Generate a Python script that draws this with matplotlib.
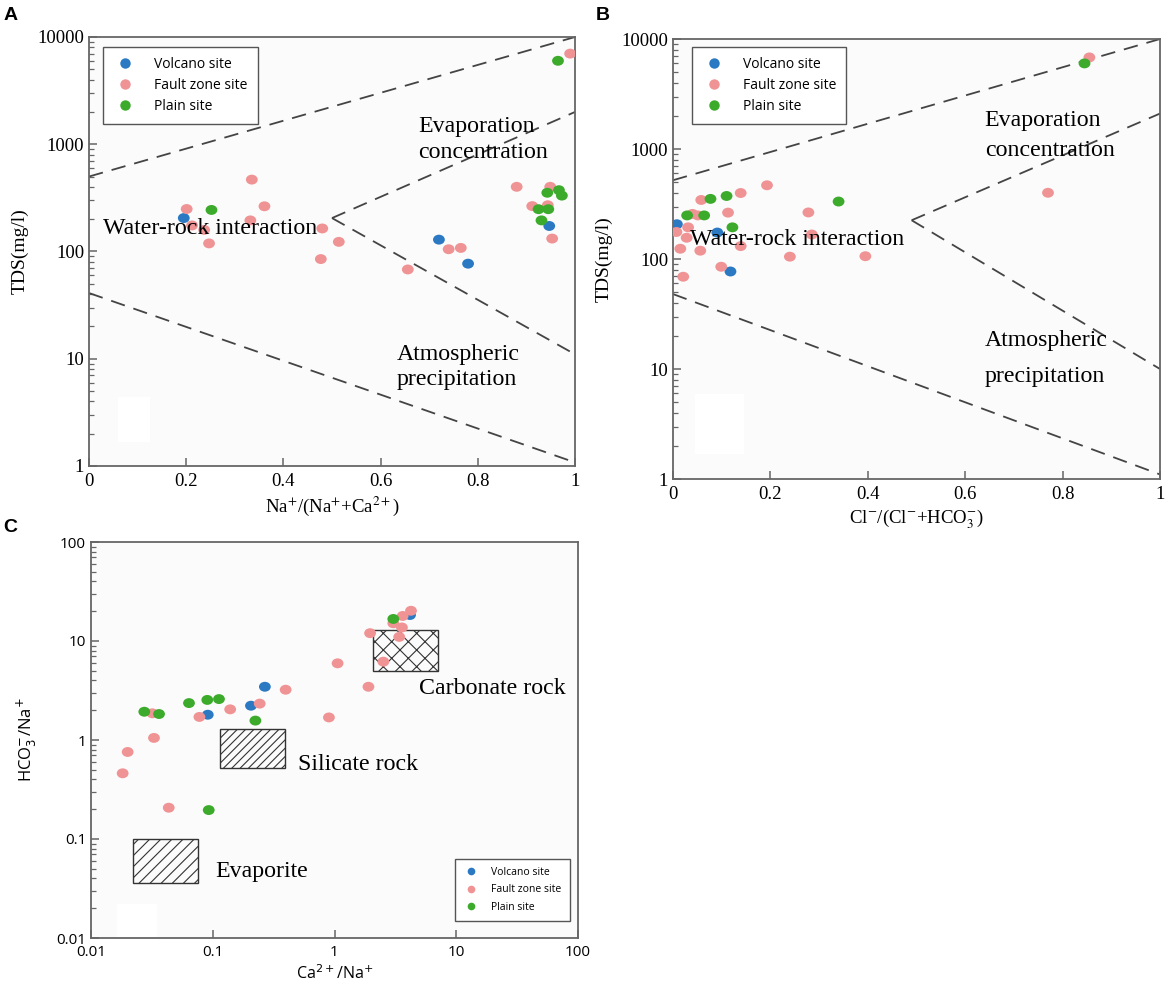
import matplotlib
matplotlib.use('Agg')
import matplotlib.pyplot as plt
from matplotlib.patches import Rectangle
from matplotlib.lines import Line2D
from matplotlib.path import Path
from matplotlib.transforms import Affine2D
from matplotlib.ticker import LogLocator, NullFormatter, NullLocator

# ---------------- DATA ----------------
# Panel A : Na+/(Na+ + Ca2+) vs TDS
a_volcano_x = [0.195, 0.720, 0.780, 0.947]
a_volcano_y = [205, 129, 77, 173]
a_fault_x = [0.201, 0.212, 0.237, 0.247, 0.335, 0.361, 0.332, 0.480, 0.514, 0.477,
             0.656, 0.740, 0.765, 0.880, 0.949, 0.912, 0.944, 0.953, 0.990]
a_fault_y = [249, 175, 159, 119, 468, 264, 195, 164, 123, 85,
             68, 105, 108, 401, 401, 265, 270, 132, 7000]
a_plain_x = [0.252, 0.943, 0.967, 0.973, 0.925, 0.945, 0.931, 0.965]
a_plain_y = [244, 353, 373, 332, 248, 248, 195, 6000]

# Panel B : Cl-/(Cl- + HCO3-) vs TDS
b_volcano_x = [0.008, 0.091, 0.118]
b_volcano_y = [207, 174, 77]
b_fault_x = [0.193, 0.139, 0.058, 0.278, 0.113, 0.040, 0.051, 0.007, 0.031, 0.285,
             0.028, 0.015, 0.056, 0.139, 0.240, 0.395, 0.099, 0.021, 0.770, 0.855]
b_fault_y = [468, 398, 344, 265, 264, 257, 249, 176, 194, 167,
             156, 124, 119, 131, 105, 106, 85, 69, 400, 6800]
b_plain_x = [0.110, 0.077, 0.340, 0.029, 0.064, 0.122, 0.845]
b_plain_y = [374, 352, 333, 249, 249, 194, 6000]

# Panel C : Ca2+/Na+ vs HCO3-/Na+
c_volcano_x = [0.268, 0.206, 0.091, 4.17]
c_volcano_y = [3.45, 2.22, 1.80, 18.3]
c_fault_x = [0.397, 0.139, 0.243, 0.0777, 0.0319, 0.0329, 0.0200, 0.0182, 0.0435,
             3.63, 4.25, 3.04, 3.58, 3.40, 1.96, 2.52, 1.06, 1.90, 0.90]
c_fault_y = [3.22, 2.04, 2.33, 1.71, 1.86, 1.05, 0.757, 0.461, 0.207,
             17.9, 20.2, 15.1, 13.7, 11.0, 12.0, 6.18, 5.95, 3.45, 1.69]
c_plain_x = [0.0638, 0.0902, 0.1125, 0.224, 0.0274, 0.0362, 0.0927, 3.04]
c_plain_y = [2.36, 2.54, 2.59, 1.57, 1.93, 1.83, 0.196, 16.7]

# Gibbs boundary lines (x, y pairs)
a_lines = [([0, 1], [500, 10000]), ([0.5, 1], [205, 2000]),
           ([0.5, 1], [205, 11]), ([0, 1], [41, 1.08])]
b_lines = [([0, 1], [520, 10000]), ([0.49, 1], [225, 2100]),
           ([0.49, 1], [225, 10]), ([0, 1], [48, 1.1])]

# Rock end-member boxes: (x0, x1, y0, y1)
c_boxes = {'Carbonate rock': (2.08, 7.1, 5.0, 12.8),
           'Silicate rock': (0.115, 0.39, 0.52, 1.3),
           'Evaporite': (0.022, 0.076, 0.036, 0.1)}

series_names = ['Volcano site', 'Fault zone site', 'Plain site']
colors = ['#2a79c2', '#f09395', '#3cab2c']

log_ticks_tds = [1, 10, 100, 1000, 10000]
log_ticks_tds_lbl = ['1', '10', '100', '1000', '10000']
lin_ticks = [0, 0.2, 0.4, 0.6, 0.8, 1]
lin_ticks_lbl = ['0', '0.2', '0.4', '0.6', '0.8', '1']
c_ticks = [0.01, 0.1, 1, 10, 100]
c_ticks_lbl = ['0.01', '0.1', '1', '10', '100']

# ---------------- STYLE ----------------
SERIF = ['Liberation Serif', 'DejaVu Serif']
SANS = ['Open Sans', 'DejaVu Sans']
plt.rcParams['hatch.linewidth'] = 0.8
plt.rcParams['hatch.color'] = '#333333'
SPINE = '#666666'
DASH = '#444444'
TXT = 17.2

# slightly wide elliptical dot, like the reference
DOT = Path.unit_circle().transformed(Affine2D().scale(1.0, 0.84))

fig = plt.figure(figsize=(11.7, 9.81), dpi=100)
W, H = 1170, 981


def px_axes(l, t, r, b):
    return fig.add_axes([l / W, 1 - b / H, (r - l) / W, (b - t) / H])


axA = px_axes(89, 37, 575, 466)
axB = px_axes(673, 39, 1160, 479)
axC = px_axes(91, 542, 578, 938)


def style_axis(ax):
    ax.set_facecolor('#fbfbfb')
    for s in ax.spines.values():
        s.set_color(SPINE)
        s.set_linewidth(1.3)
    ax.tick_params(which='both', direction='in', color=SPINE, top=False, right=False)
    ax.tick_params(which='major', length=6, width=1.1)
    ax.tick_params(which='minor', length=3.5, width=0.9)


def scatter_series(ax, xs, ys):
    for x, y, c in zip(xs, ys, colors):
        ax.scatter(x, y, s=72, marker=DOT, color=c, edgecolors='none', zorder=3)


def add_legend(ax, anchor, fs, ms, **kw):
    handles = [Line2D([], [], marker='o', linestyle='none', color=c,
                      markersize=ms, markeredgewidth=0) for c in colors]
    leg = ax.legend(handles, series_names, loc='upper left', bbox_to_anchor=anchor,
                    frameon=True, fancybox=False, prop={'family': SANS, 'size': fs},
                    **kw)
    fr = leg.get_frame()
    fr.set_edgecolor('#555555')
    fr.set_linewidth(1.0)
    fr.set_facecolor('white')
    fr.set_alpha(1)
    return leg


# ---------- Panel A & B ----------
for ax, lines, data, xlabel in [
        (axA, a_lines,
         [(a_volcano_x, a_volcano_y), (a_fault_x, a_fault_y), (a_plain_x, a_plain_y)],
         r'Na$^{+}$/(Na$^{+}$+Ca$^{2+}$)'),
        (axB, b_lines,
         [(b_volcano_x, b_volcano_y), (b_fault_x, b_fault_y), (b_plain_x, b_plain_y)],
         r'Cl$^{-}$/(Cl$^{-}$+HCO$_{3}^{-}$)')]:
    style_axis(ax)
    ax.set_yscale('log')
    ax.set_xlim(0, 1)
    ax.set_ylim(1, 10000)
    ax.set_yticks(log_ticks_tds, log_ticks_tds_lbl)
    ax.yaxis.set_minor_locator(LogLocator(base=10, subs=range(2, 10)))
    ax.yaxis.set_minor_formatter(NullFormatter())
    ax.set_xticks(lin_ticks, lin_ticks_lbl)
    for lbl in ax.get_xticklabels() + ax.get_yticklabels():
        lbl.set_family(SERIF)
        lbl.set_fontsize(13.5)
    ax.tick_params(axis='x', pad=5)
    for lx, ly in lines:
        ax.plot(lx, ly, color=DASH, lw=1.3, dashes=(8, 5), zorder=2)
    scatter_series(ax, [d[0] for d in data], [d[1] for d in data])
    ax.set_ylabel('TDS(mg/l)', family=SERIF, fontsize=14, labelpad=6)
    ax.set_xlabel(xlabel, family=SERIF, fontsize=13.5, math_fontfamily='stix', labelpad=3)

# white patch artefacts
axA.add_patch(Rectangle((0.06, 1.67), 0.066, 2.73, facecolor='white', edgecolor='none', zorder=0.5))
axB.add_patch(Rectangle((0.045, 1.7), 0.10, 4.2, facecolor='white', edgecolor='none', zorder=0.5))

# texts A
axA.text(0.028, 164, 'Water-rock interaction', family=SERIF, fontsize=TXT, va='center', ha='left', zorder=4)
axA.text(0.677, 1450, 'Evaporation', family=SERIF, fontsize=TXT, va='center', ha='left')
axA.text(0.677, 840, 'concentration', family=SERIF, fontsize=TXT, va='center', ha='left')
axA.text(0.634, 11.0, 'Atmospheric', family=SERIF, fontsize=TXT, va='center', ha='left')
axA.text(0.634, 6.4, 'precipitation', family=SERIF, fontsize=TXT, va='center', ha='left')
# texts B
axB.text(0.034, 150, 'Water-rock interaction', family=SERIF, fontsize=TXT, va='center', ha='left', zorder=4)
axB.text(0.64, 1800, 'Evaporation', family=SERIF, fontsize=TXT, va='center', ha='left')
axB.text(0.64, 960, 'concentration', family=SERIF, fontsize=TXT, va='center', ha='left')
axB.text(0.64, 18.0, 'Atmospheric', family=SERIF, fontsize=TXT, va='center', ha='left')
axB.text(0.64, 8.6, 'precipitation', family=SERIF, fontsize=TXT, va='center', ha='left')

add_legend(axA, (0.029, 0.977), 10, 7.5, borderpad=0.75, labelspacing=0.42,
           handletextpad=1.3, handlelength=1.6, borderaxespad=0)
add_legend(axB, (0.039, 0.982), 10, 7.5, borderpad=0.75, labelspacing=0.42,
           handletextpad=1.3, handlelength=1.6, borderaxespad=0)

# ---------- Panel C ----------
style_axis(axC)
axC.set_xscale('log')
axC.set_yscale('log')
axC.set_xlim(0.01, 100)
axC.set_ylim(0.01, 100)
axC.set_xticks(c_ticks, c_ticks_lbl)
axC.set_yticks(c_ticks, c_ticks_lbl)
axC.xaxis.set_minor_locator(NullLocator())
axC.yaxis.set_minor_locator(LogLocator(base=10, subs=range(2, 10)))
axC.yaxis.set_minor_formatter(NullFormatter())
for lbl in axC.get_xticklabels() + axC.get_yticklabels():
    lbl.set_family(SANS)
    lbl.set_fontsize(11)
axC.tick_params(axis='x', pad=5)
axC.add_patch(Rectangle((0.0163, 0.01), 0.0185, 0.012, facecolor='white', edgecolor='none', zorder=0.5))

hatches = {'Carbonate rock': 'xx', 'Silicate rock': '////', 'Evaporite': '///'}
for name, (x0, x1, y0, y1) in c_boxes.items():
    axC.add_patch(Rectangle((x0, y0), x1 - x0, y1 - y0, facecolor='none',
                            edgecolor='#333333', lw=1.0, hatch=hatches[name], zorder=2))

scatter_series(axC, [c_volcano_x, c_fault_x, c_plain_x], [c_volcano_y, c_fault_y, c_plain_y])

axC.text(4.9, 3.3, 'Carbonate rock', family=SERIF, fontsize=TXT, va='center', ha='left')
axC.text(0.50, 0.57, 'Silicate rock', family=SERIF, fontsize=TXT, va='center', ha='left')
axC.text(0.104, 0.047, 'Evaporite', family=SERIF, fontsize=TXT, va='center', ha='left')

axC.set_xlabel(r'Ca$^{2+}$/Na$^{+}$', family=SANS, fontsize=11.5, math_fontfamily='dejavusans', labelpad=3)
axC.set_ylabel(r'HCO$_{3}^{-}$/Na$^{+}$', family=SANS, fontsize=12, math_fontfamily='dejavusans', labelpad=12)

add_legend(axC, (0.747, 0.20), 7.5, 5.5, borderpad=0.8, labelspacing=0.6,
           handletextpad=1.2, handlelength=1.5, borderaxespad=0)

# panel letters
for x, y, t in [(11, 16, 'A'), (603, 16, 'B'), (10, 528, 'C')]:
    fig.text(x / W, 1 - y / H, t, family=['Liberation Sans', 'DejaVu Sans'],
             fontweight='bold', fontsize=14, ha='center', va='center')

fig.savefig('out.png', dpi=100, facecolor='white')
